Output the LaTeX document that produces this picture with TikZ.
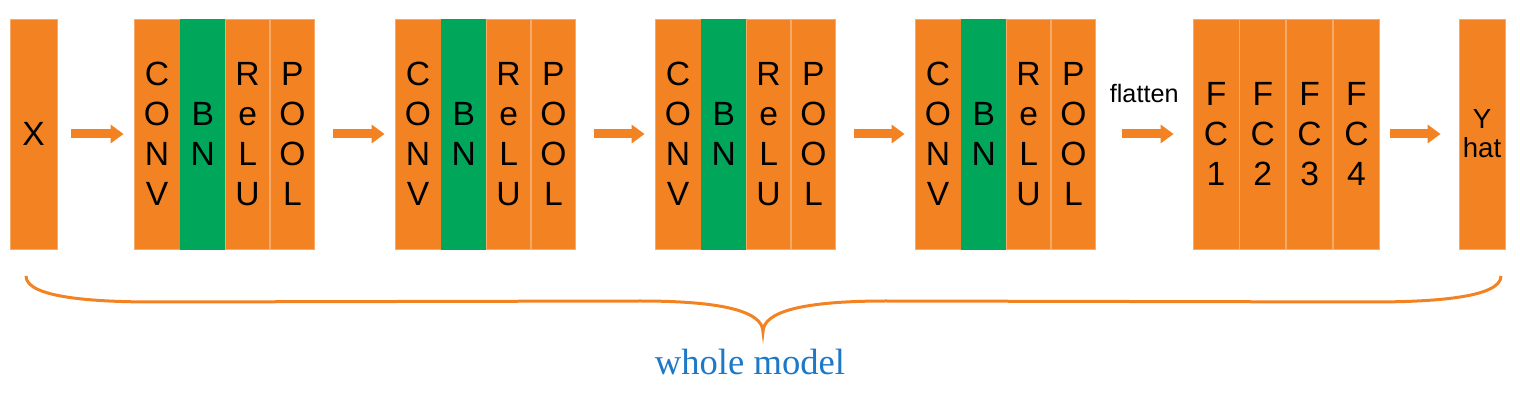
\documentclass[tikz,border=0pt]{standalone}
\usepackage{fontspec}
\setmainfont{Liberation Sans}
\newfontfamily\labelfont{Liberation Serif}
\usetikzlibrary{positioning,arrows.meta}
\definecolor{layerorange}{RGB}{243,131,34}
\definecolor{edgeorange}{RGB}{248,170,105}
\definecolor{bngreen}{RGB}{0,166,90}
\definecolor{modelblue}{RGB}{30,120,200}
\begin{document}
\begin{tikzpicture}[x=0.5pt, y=-0.5pt]

\tikzstyle{layer}=[rectangle, fill=layerorange, draw=edgeorange, line width=0.4pt, minimum width=23pt, minimum height=115pt, inner sep=0pt, align=center, font=\fontsize{16.8}{20}\selectfont]
\tikzstyle{bn}=[layer, fill=bngreen, draw=bngreen, minimum width=22pt]
\tikzstyle{arrow}=[-{Triangle[length=6.5pt, width=9pt]}, layerorange, line width=4.5pt, shorten <=9pt, shorten >=5pt]

\useasboundingbox (0,0) rectangle (1520,400);

\node (X) [layer, minimum width=23.5pt] at (33.5,134) {X};

\node (conv1) [layer] at (157,134) {C\\O\\N\\V};
\node (bn1) [bn, right=0pt of conv1] {B\\N};
\node (relu1) [layer, minimum width=22pt, right=0pt of bn1] {R\\e\\L\\U};
\node (pool1) [layer, minimum width=22pt, right=0pt of relu1] {P\\O\\O\\L};

\node (conv2) [layer] at (418,134) {C\\O\\N\\V};
\node (bn2) [bn, right=0pt of conv2] {B\\N};
\node (relu2) [layer, minimum width=22pt, right=0pt of bn2] {R\\e\\L\\U};
\node (pool2) [layer, minimum width=22pt, right=0pt of relu2] {P\\O\\O\\L};

\node (conv3) [layer] at (678,134) {C\\O\\N\\V};
\node (bn3) [bn, right=0pt of conv3] {B\\N};
\node (relu3) [layer, minimum width=22pt, right=0pt of bn3] {R\\e\\L\\U};
\node (pool3) [layer, minimum width=22pt, right=0pt of relu3] {P\\O\\O\\L};

\node (conv4) [layer] at (938,134) {C\\O\\N\\V};
\node (bn4) [bn, right=0pt of conv4] {B\\N};
\node (relu4) [layer, minimum width=22pt, right=0pt of bn4] {R\\e\\L\\U};
\node (pool4) [layer, minimum width=22pt, right=0pt of relu4] {P\\O\\O\\L};

\node (fc1) [layer] at (1216,134) {F\\C\\1};
\node (fc2) [layer, right=0pt of fc1] {F\\C\\2};
\node (fc3) [layer, right=0pt of fc2] {F\\C\\3};
\node (fc4) [layer, right=0pt of fc3] {F\\C\\4};

\node (Y) [layer, font=\fontsize{13.8}{14.5}\selectfont] at (1482,134) {Y\\hat};

\draw [arrow, shorten <=7pt] (X) -- (conv1);
\draw [arrow] (pool1) -- (conv2);
\draw [arrow] (pool2) -- (conv3);
\draw [arrow] (pool3) -- (conv4);
\draw [arrow, shorten <=13pt, shorten >=9.5pt] (pool4) -- node [above=13.5pt, inner sep=0pt, text=black, font=\fontsize{12.6}{15}\selectfont] {flatten} (fc1);
\draw [arrow, shorten <=5pt, shorten >=9pt] (fc4) -- (Y);

\draw [layerorange, line width=1.5pt] (26,276) .. controls (26,298) and (95,302) .. (155,302) -- (640,301) .. controls (725,301) and (763,312) .. (763,332) .. controls (763,312) and (801,301) .. (886,301) -- (1371,302) .. controls (1431,302) and (1501,298) .. (1501,276);

\node (model) [anchor=base, text=modelblue, font=\labelfont\fontsize{18.3}{22}\selectfont] at (750,375) {whole model};

\end{tikzpicture}
\end{document}
